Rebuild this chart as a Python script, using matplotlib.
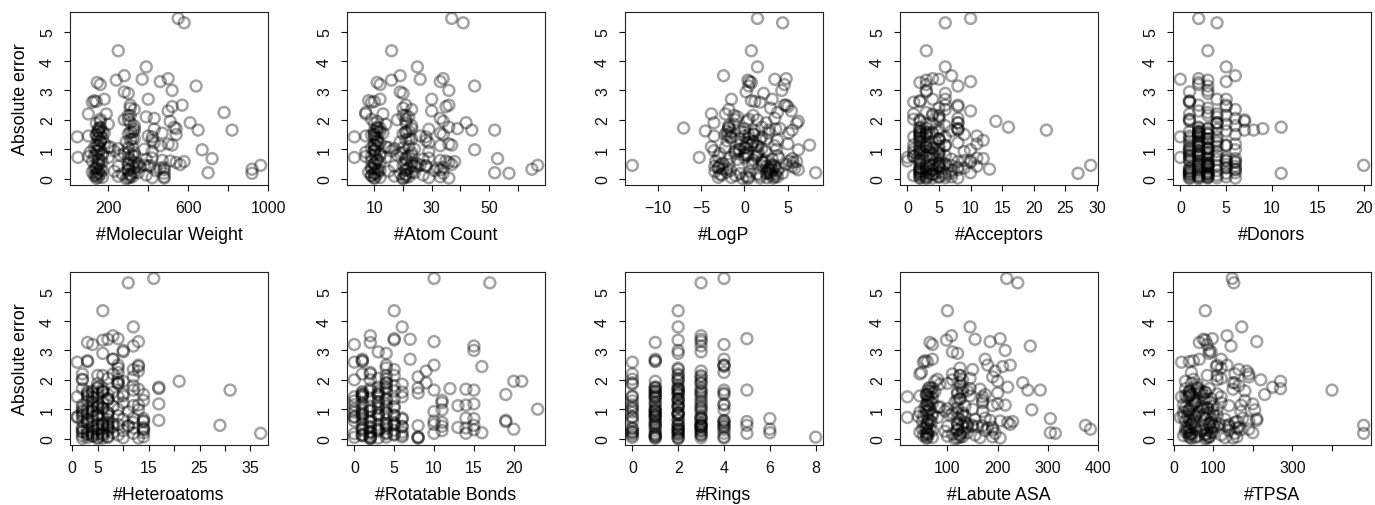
import matplotlib
matplotlib.use("Agg")
import matplotlib.pyplot as plt

plt.rcParams['font.family'] = ['Liberation Sans', 'DejaVu Sans']

# absolute error, shared by every panel (one value per molecule)
abs_err = [5.45, 5.30, 4.35, 3.80, 3.50, 3.40, 3.38, 3.35, 3.30, 3.27, 3.20, 3.15, 3.00,
           2.95, 2.90, 2.70, 2.70, 2.65, 2.62, 2.60, 2.50, 2.50, 2.45,
           2.40, 2.35, 2.30, 2.25, 2.20, 2.20, 2.15, 2.10, 2.05, 2.00, 2.00, 2.02,
           1.95, 1.95, 1.90, 1.88, 1.80, 1.75, 1.72, 1.70, 1.65, 1.65, 1.62, 1.60, 1.60, 1.58, 1.55, 1.55, 1.52, 1.50, 1.50, 1.70, 1.85, 1.68,
           1.45, 1.45, 1.42, 1.40, 1.38, 1.35, 1.30, 1.28, 1.25, 1.20, 1.18, 1.15, 1.12, 1.10, 1.10, 1.08, 1.05, 1.02, 1.00, 1.00, 1.32, 1.22, 1.14, 1.48, 1.06,
           0.98, 0.95, 0.92, 0.90, 0.88, 0.85, 0.82, 0.80, 0.78, 0.75, 0.72, 0.72, 0.70, 0.68, 0.65, 0.65, 0.62, 0.60, 0.58, 0.55, 0.52, 0.50, 0.50, 0.85, 0.76, 0.66, 0.94, 0.56, 0.60, 0.80,
           0.48, 0.46, 0.45, 0.45, 0.44, 0.42, 0.40, 0.38, 0.36, 0.35, 0.33, 0.32, 0.30, 0.30, 0.28, 0.27, 0.25, 0.24, 0.22, 0.20,
           0.20, 0.18, 0.18, 0.17, 0.16, 0.15, 0.14, 0.12, 0.10, 0.08, 0.06, 0.05, 0.04, 0.03, 0.02, 0.02, 0.01, 0.00, 0.42, 0.36,
           1.75, 1.70, 1.62, 1.58, 1.50, 1.42, 1.35, 1.25, 1.15, 1.05, 0.95, 0.88, 0.78, 0.70, 0.62,
           0.55, 0.48, 0.45, 0.42, 0.38, 0.32, 0.28, 0.22, 0.18, 0.12, 0.10, 0.06, 0.04, 2.15, 1.90]

mol_weight = [550, 580, 250, 390, 280, 500, 370, 240, 460, 145, 160, 640, 520,
              280, 300, 400, 180, 130, 140, 120, 310, 570, 520,
              310, 330, 500, 780, 190, 100, 300, 390, 430, 300, 280, 160,
              160, 510, 610, 140, 330, 530, 160, 540, 650, 820, 330, 170, 150, 320, 180, 470, 300, 540, 160, 150, 200, 430,
              400, 100, 45, 150, 170, 330, 420, 160, 290, 180, 500, 140, 460, 150, 320, 210, 130, 250, 160, 380, 310, 430, 520, 140, 200,
              670, 150, 420, 110, 300, 170, 140, 260, 330, 100, 48, 200, 420, 720, 150, 310, 470, 120, 580, 540, 150, 350, 300, 280, 130, 390, 230, 170, 510, 320,
              560, 380, 963, 320, 410, 250, 360, 480, 140, 330, 130, 920, 300, 480, 170, 440, 230, 150, 120, 700,
              350, 920, 480, 140, 270, 310, 160, 390, 130, 250, 480, 310, 150, 420, 480, 300, 140, 290, 400, 460,
              160, 330, 150, 310, 140, 420, 320, 160, 150, 300, 140, 330, 170, 300, 160,
              330, 150, 300, 340, 140, 160, 300, 330, 150, 310, 140, 320, 170, 310, 310]

atom_count = [37, 41, 16, 25, 19, 34, 26, 16, 33, 11, 12, 45, 36,
              19, 20, 30, 12, 8, 10, 9, 21, 36, 35,
              20, 23, 30, 7, 13, 7, 20, 22, 33, 21, 18, 9,
              11, 34, 42, 10, 23, 36, 12, 39, 44, 52, 22, 12, 11, 21, 13, 33, 20, 34, 10, 11, 14, 29,
              26, 7, 3, 10, 11, 23, 28, 11, 19, 12, 36, 10, 33, 11, 22, 14, 9, 17, 10, 24, 21, 29, 37, 9, 15,
              45, 10, 29, 7, 20, 12, 10, 18, 22, 7, 3, 14, 29, 53, 11, 21, 33, 9, 38, 36, 10, 25, 21, 19, 9, 27, 16, 12, 35, 23,
              37, 26, 67, 23, 28, 17, 25, 34, 10, 22, 9, 65, 21, 33, 12, 31, 15, 11, 8, 52,
              24, 57, 34, 10, 19, 21, 11, 27, 9, 17, 33, 21, 10, 29, 36, 20, 10, 20, 28, 32,
              11, 23, 10, 21, 10, 28, 22, 11, 10, 20, 10, 23, 12, 21, 11,
              23, 10, 20, 24, 9, 11, 21, 23, 10, 21, 9, 22, 12, 21, 21]

logp = [1.5, 4.4, 0.8, 1.5, -2.4, 4.8, 3.5, 0.4, 0.6, 0.8, 4.6, 0.5, 4.3,
        0.2, 2.2, 3.2, -1.5, 0.8, 1.2, 1.8, 4.6, 4.8, 5.0,
        3.0, -1.8, 5.4, 3.8, -2.2, -3.8, 1.0, -0.8, 3.5, 1.5, -1.0, 0.5,
        0.3, 6.2, 2.5, 6.0, -1.8, 2.0, -7.0, 4.1, 2.8, 5.5, -4.5, -0.5, -2.0, 0.0, 2.8, 5.1, 1.0, -2.2, 1.1, -1.8, -1.2, 3.6,
        0.0, -3.5, -1.6, -1.5, 0.5, 2.5, 3.8, -2.0, 1.0, 0.2, 5.0, -0.5, 3.5, 1.6, 1.4, -3.8, 0.0, 2.0, -0.6, 3.7, 1.8, 0.4, 7.5, -1.9, -2.2,
        6.2, -3.5, 2.4, -1.2, 0.3, -2.8, 1.5, 0.0, 3.8, -3.0, -5.2, -1.6, 4.0, 5.5, -0.8, 1.0, 2.0, -3.3, 6.0, 5.6, -2.5, 0.9, 0.5, -1.0, 1.4, 3.2, -0.6, 2.2, 5.2, 0.2,
        4.8, 3.4, -12.9, -2.8, 2.0, -3.4, 3.5, 3.0, -3.0, 4.0, -2.5, 2.8, 6.2, 3.2, -1.6, 3.8, 0.6, -3.4, -2.0, 8.2,
        2.6, 4.4, 2.9, -0.5, 1.5, 3.6, -2.8, 3.1, -1.0, 0.2, 3.8, 0.5, -3.0, 2.6, 3.3, 1.8, -0.2, 0.4, 5.5, 5.8,
        -1.8, 0.0, 1.2, -1.5, 0.5, 2.0, -0.5, 1.0, 0.8, 0.2, -1.0, 1.6, 0.4, 0.0, 2.4,
        2.0, -1.8, 3.0, 2.6, -3.0, -2.0, 2.8, 3.0, 2.5, -2.6, 1.8, 3.5, -1.5, -1.2, -3.5]

acceptors = [10, 6, 3, 6, 7, 4, 5, 3, 10, 2, 3, 8, 3,
             3, 6, 6, 4, 2, 2, 1, 8, 6, 8,
             5, 6, 10, 3, 4, 1, 5, 5, 8, 2, 5, 1,
             2, 14, 8, 4, 6, 16, 3, 8, 22, 8, 7, 5, 2, 3, 3, 2, 4, 9, 2, 2, 3, 8,
             11, 3, 1, 2, 2, 5, 12, 2, 4, 3, 11, 1, 6, 2, 5, 3, 2, 4, 1, 5, 5, 8, 6, 2, 3,
             10, 2, 9, 1, 5, 2, 2, 4, 6, 1, 0, 3, 11, 12, 2, 5, 9, 0, 8, 10, 2, 6, 5, 4, 1, 7, 3, 2, 10, 5,
             6, 4, 29, 5, 7, 3, 5, 8, 2, 5, 2, 13, 4, 8, 2, 7, 3, 2, 2, 10,
             6, 27, 7, 2, 4, 4, 2, 6, 1, 3, 7, 5, 2, 6, 8, 4, 2, 3, 11, 9,
             2, 5, 2, 4, 3, 6, 5, 2, 3, 4, 2, 5, 3, 4, 2,
             5, 3, 4, 5, 2, 3, 4, 5, 3, 4, 2, 5, 3, 4, 8]

donors = [2, 4, 3, 5, 6, 2, 0, 3, 5, 2, 2, 3, 3,
          1, 3, 4, 5, 1, 1, 1, 2, 5, 5,
          3, 6, 2, 3, 4, 1, 5, 4, 6, 7, 1, 1,
          1, 7, 4, 4, 6, 11, 2, 9, 8, 7, 5, 2, 1, 2, 2, 2, 3, 6, 3, 3, 5, 4,
          2, 1, 0, 2, 1, 3, 4, 1, 3, 2, 6, 1, 5, 2, 4, 2, 1, 3, 1, 3, 2, 4, 5, 2, 3,
          6, 1, 4, 1, 3, 2, 1, 2, 4, 1, 0, 2, 5, 6, 1, 3, 5, 1, 6, 6, 2, 3, 3, 2, 1, 4, 2, 2, 5, 3,
          5, 3, 20, 3, 4, 2, 3, 5, 1, 3, 1, 6, 2, 6, 1, 4, 2, 1, 1, 6,
          3, 11, 5, 1, 3, 3, 1, 4, 1, 2, 5, 3, 1, 4, 6, 3, 1, 2, 6, 5,
          2, 3, 2, 3, 2, 4, 3, 2, 2, 3, 2, 3, 2, 3, 2,
          3, 2, 3, 3, 2, 2, 3, 3, 2, 3, 2, 3, 2, 3, 4]

heteroatoms = [16, 11, 6, 12, 8, 9, 7, 6, 13, 3, 4, 12, 10,
               10, 6, 8, 8, 3, 3, 1, 13, 9, 13,
               9, 12, 13, 9, 8, 2, 5, 12, 7, 2, 9, 2,
               10, 21, 9, 5, 12, 17, 5, 17, 31, 12, 6, 6, 3, 8, 4, 3, 10, 14, 7, 2, 9, 13,
               10, 3, 1, 4, 4, 7, 14, 3, 6, 5, 17, 2, 12, 4, 8, 5, 2, 6, 3, 9, 7, 10, 13, 3, 5,
               13, 2, 11, 2, 7, 3, 2, 5, 9, 1, 1, 4, 12, 14, 3, 7, 17, 2, 14, 12, 3, 8, 6, 5, 2, 10, 4, 3, 14, 7,
               9, 7, 29, 6, 11, 4, 8, 14, 2, 7, 2, 14, 5, 14, 3, 10, 4, 2, 2, 14,
               8, 37, 12, 3, 5, 6, 3, 9, 2, 4, 14, 7, 3, 10, 13, 6, 2, 5, 11, 12,
               5, 6, 4, 6, 5, 9, 7, 4, 5, 6, 4, 7, 5, 6, 4,
               7, 5, 6, 7, 4, 5, 7, 6, 4, 6, 4, 7, 5, 6, 9]

rot_bonds = [10, 17, 5, 6, 2, 5, 7, 5, 10, 2, 0, 15, 15,
             3, 4, 7, 1, 1, 1, 0, 4, 10, 16,
             4, 5, 9, 2, 2, 1, 5, 8, 3, 0, 2, 4,
             20, 21, 4, 4, 5, 4, 8, 12, 10, 15, 5, 3, 1, 6, 1, 8, 3, 19, 1, 2, 6, 14,
             3, 1, 0, 1, 2, 4, 11, 0, 3, 1, 15, 0, 13, 2, 5, 4, 1, 3, 0, 23, 4, 11, 14, 1, 3,
             11, 1, 10, 0, 4, 1, 1, 3, 5, 0, 0, 2, 14, 15, 1, 4, 19, 0, 19, 11, 1, 5, 4, 3, 1, 6, 2, 2, 10, 5,
             10, 5, 15, 4, 8, 2, 6, 13, 1, 4, 1, 20, 3, 15, 1, 11, 3, 2, 2, 16,
             4, 14, 10, 0, 4, 5, 1, 6, 1, 2, 8, 4, 0, 8, 8, 3, 2, 2, 11, 14,
             3, 4, 2, 4, 3, 6, 5, 3, 4, 5, 2, 4, 3, 6, 2,
             5, 3, 4, 6, 2, 3, 5, 6, 2, 5, 1, 6, 2, 4, 9]

rings = [4, 3, 2, 2, 3, 5, 3, 2, 3, 1, 4, 3, 2,
         3, 2, 4, 1, 1, 1, 0, 4, 4, 4,
         2, 2, 3, 4, 0, 2, 3, 3, 2, 2, 3, 0,
         1, 2, 0, 3, 2, 1, 3, 2, 5, 4, 3, 2, 1, 2, 1, 4, 2, 3, 4, 1, 0, 2,
         0, 1, 0, 1, 1, 2, 3, 0, 2, 1, 4, 0, 3, 1, 2, 2, 0, 1, 0, 3, 2, 3, 4, 1, 2,
         4, 1, 3, 0, 2, 1, 1, 2, 3, 0, 0, 1, 3, 6, 1, 2, 4, 0, 5, 4, 1, 3, 2, 2, 1, 3, 1, 1, 4, 2,
         4, 3, 5, 2, 3, 1, 3, 4, 0, 2, 0, 6, 2, 4, 1, 3, 2, 0, 0, 6,
         3, 5, 4, 0, 2, 2, 1, 3, 0, 1, 4, 8, 1, 3, 4, 2, 1, 2, 4, 3,
         1, 2, 1, 3, 2, 3, 2, 1, 2, 3, 1, 2, 1, 3, 2,
         3, 1, 2, 3, 1, 2, 3, 2, 1, 3, 1, 2, 0, 2, 3]

labute_asa = [218, 240, 100, 145, 108, 205, 155, 98, 185, 65, 70, 265, 215,
              110, 120, 175, 70, 55, 60, 52, 180, 225, 210,
              125, 150, 195, 48, 110, 45, 125, 190, 145, 110, 130, 80,
              75, 200, 250, 100, 125, 220, 70, 145, 260, 285, 140, 75, 65, 130, 70, 200, 120, 175, 60, 62, 85, 165,
              145, 45, 20, 62, 70, 125, 170, 60, 115, 70, 200, 58, 190, 62, 135, 85, 55, 100, 65, 150, 120, 170, 215, 58, 82,
              268, 62, 170, 45, 120, 70, 58, 105, 135, 42, 20, 80, 175, 305, 62, 125, 185, 50, 230, 220, 60, 140, 120, 110, 52, 155, 95, 68, 205, 130,
              225, 150, 375, 130, 170, 100, 150, 190, 55, 135, 50, 385, 120, 190, 70, 175, 95, 60, 45, 305,
              140, 315, 195, 58, 110, 125, 62, 155, 52, 100, 190, 125, 60, 165, 205, 120, 58, 115, 160, 180,
              65, 130, 60, 120, 58, 170, 125, 65, 60, 120, 58, 130, 70, 120, 65,
              135, 60, 120, 140, 58, 65, 120, 130, 60, 125, 58, 130, 70, 125, 125]

tpsa = [148, 152, 80, 172, 135, 98, 75, 80, 210, 65, 85, 145, 90,
        95, 90, 120, 65, 50, 40, 20, 135, 110, 108,
        120, 165, 185, 45, 155, 190, 110, 190, 120, 110, 220, 50,
        270, 30, 155, 45, 165, 250, 60, 270, 400, 60, 180, 70, 40, 80, 40, 65, 110, 75, 230, 30, 60, 150,
        40, 30, 20, 35, 50, 75, 180, 60, 90, 55, 200, 25, 140, 45, 100, 70, 30, 85, 40, 110, 80, 120, 170, 40, 75,
        205, 35, 170, 25, 90, 60, 45, 75, 110, 25, 17, 55, 175, 210, 40, 95, 210, 30, 160, 155, 45, 115, 90, 80, 35, 130, 65, 50, 190, 100,
        140, 100, 480, 90, 130, 55, 110, 165, 35, 95, 30, 190, 75, 170, 40, 140, 70, 35, 30, 200,
        100, 480, 155, 40, 80, 85, 45, 120, 25, 60, 160, 90, 40, 130, 150, 85, 45, 80, 140, 160,
        60, 90, 40, 80, 45, 120, 95, 55, 50, 85, 40, 100, 55, 80, 50,
        95, 45, 80, 100, 40, 55, 85, 95, 45, 80, 40, 90, 55, 85, 150]

x_names = ['#Molecular Weight', '#Atom Count', '#LogP', '#Acceptors', '#Donors',
           '#Heteroatoms', '#Rotatable Bonds', '#Rings', '#Labute ASA', '#TPSA']
x_data = [mol_weight, atom_count, logp, acceptors, donors,
          heteroatoms, rot_bonds, rings, labute_asa, tpsa]
x_ticks = [[200, 400, 600, 800, 1000], [10, 20, 30, 40, 50, 60], [-10, -5, 0, 5],
           [0, 5, 10, 15, 20, 25, 30], [0, 5, 10, 15, 20],
           [0, 5, 10, 15, 20, 25, 30, 35], [0, 5, 10, 15, 20], [0, 2, 4, 6, 8],
           [100, 200, 300, 400], [0, 100, 200, 300, 400]]
x_labels = [['200', '', '600', '', '1000'], ['10', '', '30', '', '50', ''],
            ['\u221210', '\u22125', '0', '5'], ['0', '5', '10', '15', '20', '25', '30'],
            ['0', '5', '10', '15', '20'], ['0', '5', '', '15', '', '25', '', '35'],
            ['0', '5', '10', '15', '20'], ['0', '2', '4', '6', '8'],
            ['100', '200', '300', '400'], ['0', '100', '', '300', '']]

W, H = 1375, 506
fig = plt.figure(figsize=(W / 100, H / 100), dpi=100)

lefts = [70, 347, 625, 900, 1173]
tops = [13, 273]
pw, ph = 198, 173

for i in range(10):
    r, c = divmod(i, 5)
    ax = fig.add_axes([lefts[c] / W, (H - tops[r] - ph) / H, pw / W, ph / H])
    ax.scatter(x_data[i], abs_err, s=62, facecolors='none',
               edgecolors=(0, 0, 0, 0.36), linewidths=1.8, zorder=3)
    ax.margins(0.04)
    ax.set_xticks(x_ticks[i])
    ax.set_xticklabels(x_labels[i])
    ax.set_yticks(range(6))
    ax.set_yticklabels([str(v) for v in range(6)], rotation=90, va='center')
    ax.tick_params(direction='out', length=4.3, width=0.8, pad=6.5, labelsize=11.5,
                   colors='#111111')
    for sp in ax.spines.values():
        sp.set_linewidth(0.8)
        sp.set_color('#222222')
    ax.set_xlabel(x_names[i], fontsize=12.8, va='center')
    ax.xaxis.set_label_coords(0.5, -50 / ph)
    if c == 0:
        ax.set_ylabel('Absolute error', fontsize=12.8, va='center')
        ax.yaxis.set_label_coords(-49 / pw, 0.5)

fig.savefig('out.png', dpi=100)
